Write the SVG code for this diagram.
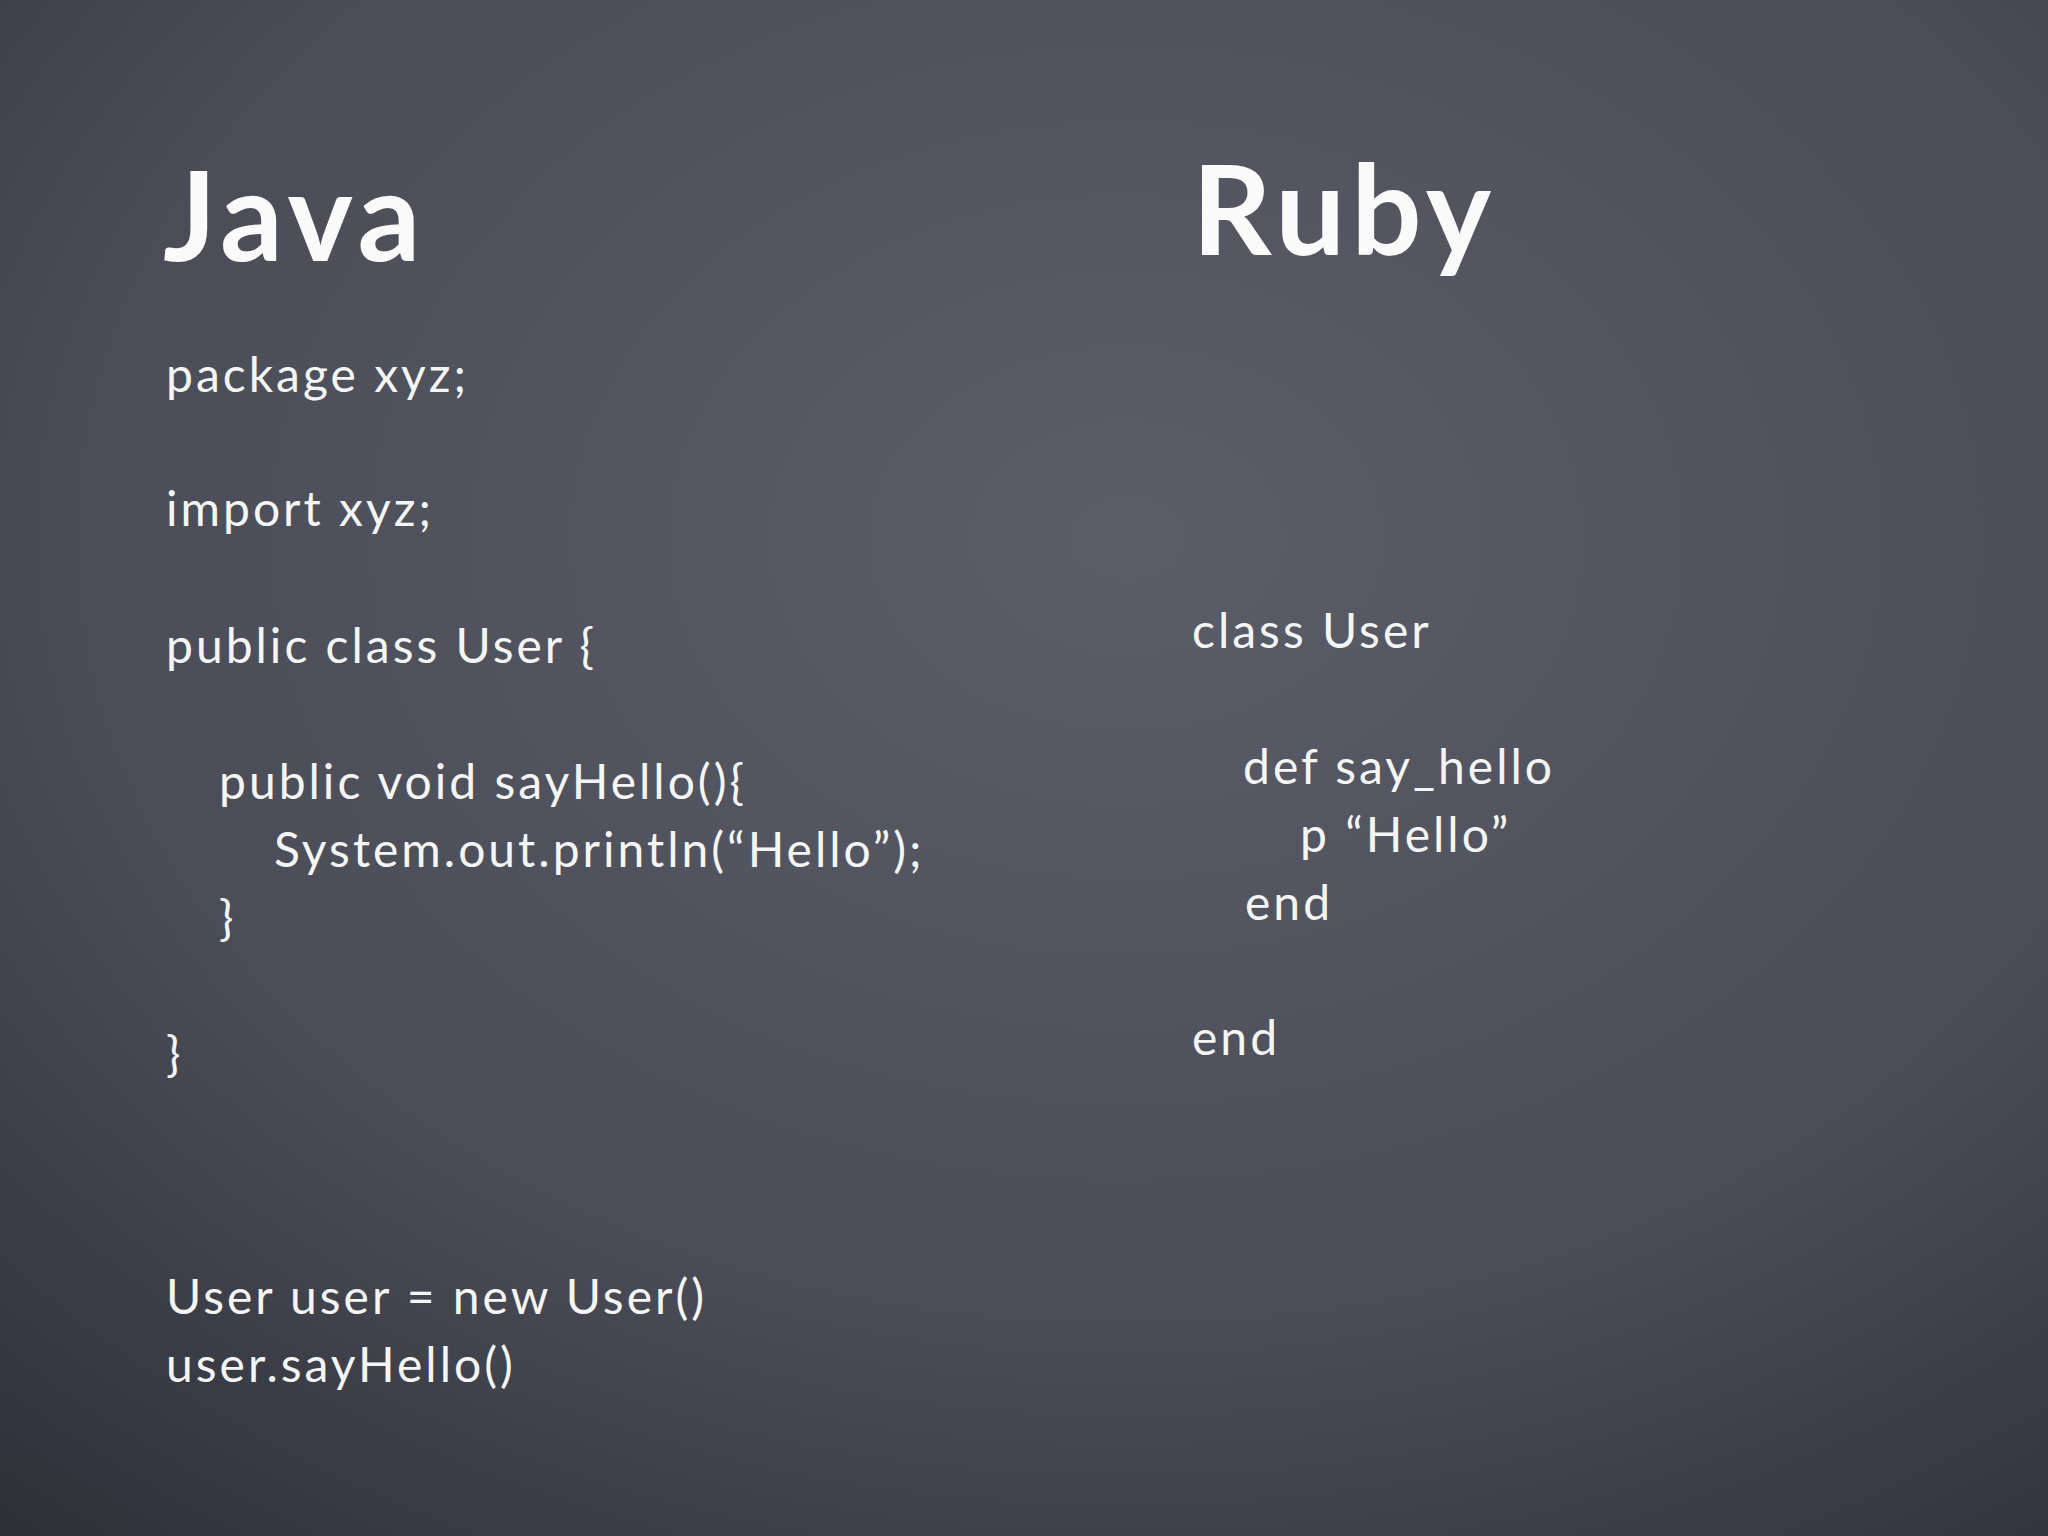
<svg xmlns="http://www.w3.org/2000/svg" width="2048" height="1536" viewBox="0 0 2048 1536">
<defs>
<radialGradient id="bg" cx="0.55" cy="0.35" r="0.85">
<stop offset="0" stop-color="#5b5e68"/>
<stop offset="0.6" stop-color="#4a4d57"/>
<stop offset="1" stop-color="#2e3038"/>
</radialGradient>
</defs>
<style>
.t{font-family:"Lato","Open Sans",sans-serif;font-weight:bold;fill:#fafafa;font-size:124px;letter-spacing:6px}
.c{font-family:"Lato","Open Sans",sans-serif;fill:#f5f5f5;font-size:48px;letter-spacing:3px}
</style>
<rect width="2048" height="1536" fill="url(#bg)"/>
<g id="java">
<text class="t" x="163" y="261">Java</text>
<text class="c" x="166" y="392">package xyz;</text>
<text class="c" x="166" y="526">import xyz;</text>
<text class="c" x="166" y="663">public class User {</text>
<text class="c" x="219" y="799">public void sayHello(){</text>
<text class="c" x="274" y="867">System.out.println(“Hello”);</text>
<text class="c" x="219" y="935">}</text>
<text class="c" x="166" y="1071">}</text>
<text class="c" x="166" y="1314">User user = new User()</text>
<text class="c" x="166" y="1382">user.sayHello()</text>
</g>
<g id="ruby">
<text class="t" x="1192" y="255">Ruby</text>
<text class="c" x="1192" y="648">class User</text>
<text class="c" x="1243" y="784">def say_hello</text>
<text class="c" x="1300" y="852">p “Hello”</text>
<text class="c" x="1245" y="920">end</text>
<text class="c" x="1192" y="1055">end</text>
</g>
<g id="connectors"/>
</svg>
